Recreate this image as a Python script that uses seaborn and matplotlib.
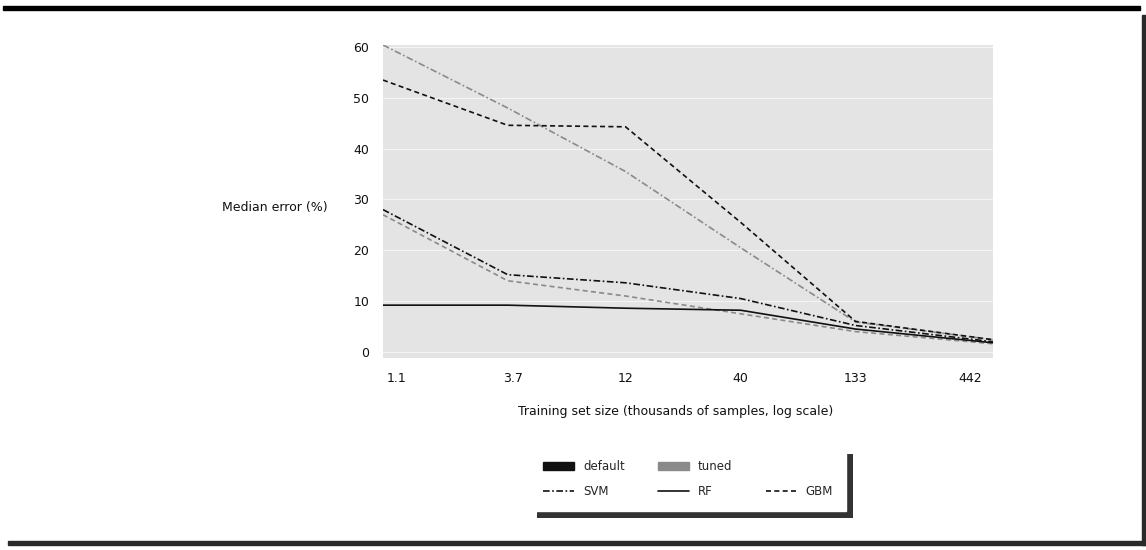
import matplotlib
matplotlib.use("Agg")
import matplotlib.pyplot as plt
import pandas as pd
import seaborn as sns
from matplotlib.lines import Line2D
from matplotlib.patches import Rectangle

# Training-set sizes (thousands of samples) and median error per model / config
sample_sizes = [0.95, 3.5, 12, 40, 133, 560]
svm_tuned = [60.4, 48.0, 35.5, 20.5, 5.9, 2.4]
gbm_default = [53.5, 44.6, 44.3, 25.5, 6.0, 2.4]
svm_default = [28.0, 15.2, 13.6, 10.5, 5.2, 2.0]
gbm_tuned = [27.0, 14.0, 11.0, 7.5, 4.0, 1.6]
rf_default = [9.2, 9.2, 8.6, 8.2, 4.5, 1.8]

models = ["SVM", "RF", "GBM"]
configs = ["default", "tuned"]
x_ticks = [1.1, 3.7, 12, 40, 133, 442]
x_tick_labels = ["1.1", "3.7", "12", "40", "133", "442"]
y_ticks = [0, 10, 20, 30, 40, 50, 60]

series = [
    ("SVM", "tuned", svm_tuned),
    ("GBM", "default", gbm_default),
    ("SVM", "default", svm_default),
    ("GBM", "tuned", gbm_tuned),
    ("RF", "default", rf_default),
]
rows = []
for model, config, values in series:
    for x, y in zip(sample_sizes, values):
        rows.append({"size": x, "error": y, "model": model, "config": config,
                     "run": f"{model}-{config}"})
df = pd.DataFrame(rows)

sns.set_theme(style="white")
plt.rcParams["font.family"] = ["DejaVu Sans"]

fig = plt.figure(figsize=(11.46, 5.5), dpi=100)
ax = fig.add_axes([383 / 1146, 1 - 358 / 550, 610 / 1146, 313 / 550])
ax.set_facecolor("#e4e4e4")

palette = {"default": "#111111", "tuned": "#8a8a8a"}
dashes = {"SVM": (4, 1.5, 1, 1.5), "RF": "", "GBM": (3, 2)}
sns.lineplot(data=df, x="size", y="error", hue="config", style="model",
             units="run", estimator=None, palette=palette, dashes=dashes,
             linewidth=1.2, legend=False, ax=ax)

ax.set_xscale("log")
ax.set_xlim(0.95, 560)
ax.set_ylim(-1.2, 60.4)
ax.set_xticks(x_ticks)
ax.set_xticklabels(x_tick_labels)
ax.minorticks_off()
ax.set_yticks(y_ticks)
ax.set_yticklabels([str(v) for v in y_ticks])
ax.tick_params(axis="both", length=0, labelsize=9, colors="#111111")
ax.tick_params(axis="x", pad=10)
ax.tick_params(axis="y", pad=10)
ax.grid(axis="y", color="white", linewidth=0.8, alpha=0.6)
for side in ax.spines.values():
    side.set_visible(False)

ax.set_ylabel("Median error (%)", rotation=0, ha="right", va="center",
              fontsize=9, color="#111111")
ax.yaxis.set_label_coords(-0.09, 0.48)
ax.set_xlabel("Training set size (thousands of samples, log scale)",
              fontsize=9, color="#111111")
ax.xaxis.set_label_coords(0.48, -0.15)

handles = [
    Rectangle((0, 0), 1, 1, color=palette["default"]),
    Line2D([], [], color="#111111", dashes=dashes["SVM"], lw=1.2),
    Rectangle((0, 0), 1, 1, color=palette["tuned"]),
    Line2D([], [], color="#111111", lw=1.2),
    Line2D([], [], alpha=0),
    Line2D([], [], color="#111111", dashes=dashes["GBM"], lw=1.2),
]
labels = ["default", "SVM", "tuned", "RF", "", "GBM"]
leg = ax.legend(handles, labels, ncol=3, loc="upper center",
                bbox_to_anchor=(0.5, -0.265), fontsize=8.5, frameon=True,
                fancybox=False, edgecolor="white", facecolor="white",
                framealpha=1, handlelength=2.6, columnspacing=2.8,
                borderpad=1.1, labelspacing=1.0)
leg.set_zorder(5)

# drop shadow behind the legend box
fig.canvas.draw()
bb = leg.get_frame().get_window_extent()
ax.add_artist(Rectangle((bb.x0 + 7, bb.y0 - 7), bb.width, bb.height,
                        transform=None, facecolor="#333333",
                        edgecolor="none", zorder=4.9, clip_on=False))

# page frame: dark rule on top, shadow on the right and bottom
W, H = 1146, 550
fig.add_artist(Rectangle((3 / W, 1 - 10 / H), 1137 / W, 4 / H,
                         transform=fig.transFigure, color="black"))
fig.add_artist(Rectangle((1142 / W, 5 / H), 4 / W, 530 / H,
                         transform=fig.transFigure, color="#2a2a2a"))
fig.add_artist(Rectangle((8 / W, 5 / H), 1138 / W, 4 / H,
                         transform=fig.transFigure, color="#2a2a2a"))

fig.savefig("out.png", dpi=100, facecolor="white")
